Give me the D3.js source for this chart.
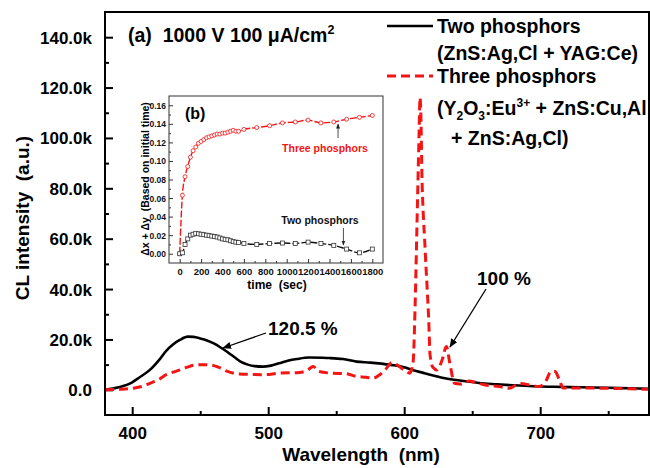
<!DOCTYPE html>
<html><head><meta charset="utf-8">
<script src="https://cdn.jsdelivr.net/npm/d3@7"></script>
<style>
html,body{margin:0;padding:0;background:#fff;}
svg text{font-family:Arial,"Liberation Sans",Helvetica,sans-serif;font-weight:bold;white-space:pre;}
</style></head>
<body>
<svg id="chart" width="650" height="468"></svg>
<script>
// ---------- main spectra data ----------
const wlTwo = [380,390,400,405,413,420,425,430,435,441,445,450,455,460,465,470,475,480,485,490,496,502,508,515,521,530,540,545,555,565,575,590,600,606,615,630,642,655,668,680,695,710,730,750,765,780];
const clTwo = [0,1000,3000,4800,7900,12000,15500,18000,19800,21100,21000,20400,19600,18400,16800,15000,13000,11100,10000,9400,9200,9600,10500,11600,12200,12800,12700,12600,12200,11200,10800,9900,9000,7900,6600,4600,3600,2700,2200,1800,1400,1200,1000,800,600,400];
const wlThree = [380,390,400,407,413,420,425,430,435,440,447,453,460,465,470,479,487,496,508,523,529,533,537,547,557,565,572,577,582,586,591,595,598,601,604,606.5,608,609,610,611,611.6,612.3,613,614,615,616,617,618,619,621,624,628,631,633.5,637,641,648,652,659,670,677,685,692,699,704,708,711,714,717,730,750,765,780];
const clThree = [0,200,600,1300,2600,4200,6000,7000,7900,8900,9900,10000,9600,8600,7300,6300,6100,6000,6600,6900,7800,9300,7300,6600,6400,5300,5000,4600,6000,7900,10800,9800,8600,7600,6600,10700,33000,56000,80000,103000,116000,108000,86000,70000,60000,49000,39000,28000,14000,9000,7900,12000,17200,10700,2600,2300,3500,3000,2000,1300,600,2500,2000,1300,3300,7300,7300,4000,700,700,600,400,200];
const xTicks = [400,500,600,700];
const xMinor = [450,550,650,750];
const yTicks = [0,20000,40000,60000,80000,100000,120000,140000];
const yMinor = [10000,30000,50000,70000,90000,110000,130000];

// ---------- inset data ----------
const tSec = [0,25,50,75,100,125,150,175,200,225,250,275,300,325,350,375,400,425,450,475,500,525,550,600,720,840,960,1080,1200,1320,1440,1560,1680,1800];
const dThree = [0,0.063,0.083,0.094,0.104,0.111,0.115,0.119,0.121,0.123,0.125,0.126,0.127,0.128,0.129,0.129,0.130,0.130,0.131,0.132,0.133,0.132,0.132,0.134,0.136,0.138,0.141,0.142,0.144,0.141,0.142,0.145,0.147,0.149];
const dTwo = [0,0.001,0.010,0.016,0.020,0.021,0.022,0.0215,0.021,0.0205,0.020,0.0195,0.019,0.0185,0.018,0.017,0.016,0.0155,0.015,0.014,0.013,0.0125,0.012,0.011,0.010,0.011,0.0115,0.011,0.0125,0.011,0.009,0.005,0.001,0.005];
const tTicks = [0,200,400,600,800,1000,1200,1400,1600,1800];
const tMinor = [100,300,500,700,900,1100,1300,1500,1700];
const dTicks = [0,0.02,0.04,0.06,0.08,0.10,0.12,0.14,0.16];
const dMinor = [0.01,0.03,0.05,0.07,0.09,0.11,0.13,0.15];

const RED = "#f41414";
const svg = d3.select("#chart");
const L=105, T=12, R=649, B=415;
const x = d3.scaleLinear().domain([380,780]).range([L,R]);
const y = d3.scaleLinear().domain([-10000,150000]).range([B,T]);

svg.append("defs").append("clipPath").attr("id","clip")
  .append("rect").attr("x",L).attr("y",T).attr("width",R-L).attr("height",B-T);
const mk = svg.select("defs").append("marker").attr("id","arr").attr("viewBox","0 0 10 10")
  .attr("refX",9).attr("refY",5).attr("markerWidth",9).attr("markerHeight",9)
  .attr("markerUnits","userSpaceOnUse").attr("orient","auto");
mk.append("path").attr("d","M0,1 L10,5 L0,9 Z").attr("fill","#000");
const mk2 = svg.select("defs").append("marker").attr("id","arr2").attr("viewBox","0 0 10 10")
  .attr("refX",9).attr("refY",5).attr("markerWidth",5).attr("markerHeight",5)
  .attr("markerUnits","userSpaceOnUse").attr("orient","auto");
mk2.append("path").attr("d","M0,1 L10,5 L0,9 Z").attr("fill","#222");

const fmtK = v => v===0 ? "0.0" : (v/1000).toFixed(1)+"k";

// axes
const gx = svg.append("g").attr("transform",`translate(0,${B})`)
  .call(d3.axisBottom(x).tickValues(xTicks).tickSize(-8).tickPadding(12).tickFormat(d3.format("d")));
const gxm = svg.append("g").attr("transform",`translate(0,${B})`)
  .call(d3.axisBottom(x).tickValues(xMinor).tickSize(-4).tickFormat(""));
const gy = svg.append("g").attr("transform",`translate(${L},0)`)
  .call(d3.axisLeft(y).tickValues(yTicks).tickSize(-8).tickPadding(13).tickFormat(fmtK));
const gym = svg.append("g").attr("transform",`translate(${L},0)`)
  .call(d3.axisLeft(y).tickValues(yMinor).tickSize(-4).tickFormat(""));
[gx,gxm,gy,gym].forEach(g=>{
  g.select(".domain").remove();
  g.selectAll(".tick line").attr("stroke","#000").attr("stroke-width",2);
  g.selectAll("text").attr("font-size",17).attr("fill","#000");
});
gy.selectAll("text").attr("dy","0.35em");

// curves
const line = d3.line().x(d=>x(d[0])).y(d=>y(d[1])).curve(d3.curveMonotoneX);
const plot = svg.append("g").attr("clip-path","url(#clip)");
plot.append("path").datum(wlTwo.map((w,i)=>[w,clTwo[i]]))
  .attr("d",line).attr("fill","none").attr("stroke","#000").attr("stroke-width",2.6);
plot.append("path").datum(wlThree.map((w,i)=>[w,clThree[i]]))
  .attr("d",line).attr("fill","none").attr("stroke",RED).attr("stroke-width",3)
  .attr("stroke-dasharray","9,5");

// frame
svg.append("rect").attr("x",L).attr("y",T).attr("width",R-L).attr("height",B-T)
  .attr("fill","none").attr("stroke","#000").attr("stroke-width",2);

// axis titles
svg.append("text").attr("x",361).attr("y",461).attr("text-anchor","middle")
  .attr("font-size",19).text("Wavelength  (nm)");
svg.append("text").attr("transform","translate(29,218) rotate(-90)").attr("text-anchor","middle")
  .attr("font-size",19).text("CL intensity  (a.u.)");

// title (a)
const ta = svg.append("text").attr("x",128).attr("y",42).attr("font-size",19.5);
ta.append("tspan").text("(a)  1000 V 100 \u03bcA/cm");
ta.append("tspan").attr("dy",-8).attr("font-size",12.5).text("2");

// legend
svg.append("line").attr("x1",387).attr("x2",433).attr("y1",26).attr("y2",26)
  .attr("stroke","#000").attr("stroke-width",2.6);
svg.append("line").attr("x1",387).attr("x2",433).attr("y1",76).attr("y2",76)
  .attr("stroke",RED).attr("stroke-width",3).attr("stroke-dasharray","9,5");
svg.append("text").attr("x",437).attr("y",33).attr("font-size",19.5).text("Two phosphors");
svg.append("text").attr("x",437).attr("y",60).attr("font-size",19.5).text("(ZnS:Ag,Cl + YAG:Ce)");
svg.append("text").attr("x",437).attr("y",83).attr("font-size",19.5).text("Three phosphors");
const l4 = svg.append("text").attr("x",437).attr("y",115).attr("font-size",19.5);
l4.append("tspan").text("(Y");
l4.append("tspan").attr("dy",5).attr("font-size",12).text("2");
l4.append("tspan").attr("dy",-5).text("O");
l4.append("tspan").attr("dy",5).attr("font-size",12).text("3");
l4.append("tspan").attr("dy",-5).text(":Eu");
l4.append("tspan").attr("dy",-8).attr("font-size",12).text("3+");
l4.append("tspan").attr("dy",8).text(" + ZnS:Cu,Al");
svg.append("text").attr("x",451).attr("y",145).attr("font-size",19.5).text("+ ZnS:Ag,Cl)");

// annotations
svg.append("text").attr("x",268).attr("y",335).attr("font-size",19).text("120.5 %");
svg.append("line").attr("x1",266).attr("y1",333).attr("x2",223).attr("y2",348)
  .attr("stroke","#000").attr("stroke-width",1.3).attr("marker-end","url(#arr)");
svg.append("text").attr("x",477).attr("y",285).attr("font-size",19).text("100 %");
svg.append("line").attr("x1",486).attr("y1",289).attr("x2",450).attr("y2",347)
  .attr("stroke","#000").attr("stroke-width",1.3).attr("marker-end","url(#arr)");

// ---------- inset ----------
const iL=169, iT=96, iR=383, iB=263;
const xi = d3.scaleLinear().domain([-100,1900]).range([iL,iR]);
const yi = d3.scaleLinear().domain([-0.01,0.17]).range([iB,iT]);
svg.append("rect").attr("x",iL).attr("y",iT).attr("width",iR-iL).attr("height",iB-iT)
  .attr("fill","#fff").attr("stroke","none");
const ig = svg.append("g");
const ax1 = ig.append("g").attr("transform",`translate(0,${iB})`)
  .call(d3.axisBottom(xi).tickValues(tTicks).tickSize(-4).tickPadding(5).tickFormat(d3.format("d")));
const ax2 = ig.append("g").attr("transform",`translate(0,${iB})`)
  .call(d3.axisBottom(xi).tickValues(tMinor).tickSize(-2).tickFormat(""));
const ay1 = ig.append("g").attr("transform",`translate(${iL},0)`)
  .call(d3.axisLeft(yi).tickValues(dTicks).tickSize(-4).tickPadding(3).tickFormat(d3.format(".2f")));
const ay2 = ig.append("g").attr("transform",`translate(${iL},0)`)
  .call(d3.axisLeft(yi).tickValues(dMinor).tickSize(-2).tickFormat(""));
[ax1,ax2,ay1,ay2].forEach(g=>{
  g.select(".domain").remove();
  g.selectAll(".tick line").attr("stroke","#333").attr("stroke-width",1);
  g.selectAll("text").attr("font-size",9.5).attr("fill","#111");
});
ay1.selectAll("text").attr("font-size",8.5).attr("dy","0.35em");

const iline = d3.line().x(d=>xi(d[0])).y(d=>yi(d[1])).curve(d3.curveMonotoneX);
const three = tSec.map((t,i)=>[t,dThree[i]]);
const two = tSec.map((t,i)=>[t,dTwo[i]]);
ig.append("path").datum(three).attr("d",iline).attr("fill","none")
  .attr("stroke",RED).attr("stroke-width",1.4).attr("stroke-dasharray","7,2");
ig.append("path").datum(two).attr("d",iline).attr("fill","none")
  .attr("stroke","#111").attr("stroke-width",1.4).attr("stroke-dasharray","7,2");
ig.selectAll("circle.m").data(three).join("circle")
  .attr("cx",d=>xi(d[0])).attr("cy",d=>yi(d[1])).attr("r",2)
  .attr("fill","#fff").attr("stroke",RED).attr("stroke-width",0.8);
ig.selectAll("rect.m").data(two).join("rect").attr("class","m")
  .attr("x",d=>xi(d[0])-2).attr("y",d=>yi(d[1])-2).attr("width",4).attr("height",4)
  .attr("fill","#fff").attr("stroke","#333").attr("stroke-width",0.8);

svg.append("rect").attr("x",iL).attr("y",iT).attr("width",iR-iL).attr("height",iB-iT)
  .attr("fill","none").attr("stroke","#333").attr("stroke-width",1);

svg.append("text").attr("x",185).attr("y",119).attr("font-size",16).text("(b)");
svg.append("text").attr("x",325).attr("y",152).attr("text-anchor","middle")
  .attr("font-size",10.5).attr("fill",RED).text("Three phosphors");
svg.append("text").attr("x",320).attr("y",224).attr("text-anchor","middle")
  .attr("font-size",10.5).attr("fill","#111").text("Two phosphors");
svg.append("line").attr("x1",xi(1480)).attr("x2",xi(1480)).attr("y1",138).attr("y2",124)
  .attr("stroke","#222").attr("stroke-width",0.8).attr("marker-end","url(#arr2)");
svg.append("line").attr("x1",xi(1530)).attr("x2",xi(1530)).attr("y1",228).attr("y2",245)
  .attr("stroke","#222").attr("stroke-width",0.8).attr("marker-end","url(#arr2)");
svg.append("text").attr("x",277).attr("y",289).attr("text-anchor","middle")
  .attr("font-size",12).text("time  (sec)");
svg.append("text").attr("transform","translate(149,179) rotate(-90)").attr("text-anchor","middle")
  .attr("font-size",10.5).text("\u0394x + \u0394y  (Based on initial time)");
</script>
</body></html>
